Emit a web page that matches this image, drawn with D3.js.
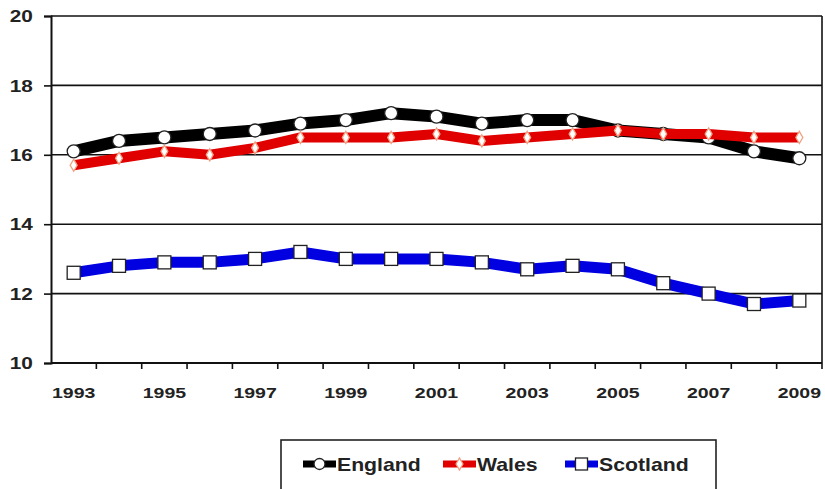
<!DOCTYPE html>
<html>
<head>
<meta charset="utf-8">
<script src="https://cdn.jsdelivr.net/npm/d3@7"></script>
<style>
  html, body { margin: 0; padding: 0; background: #fff; }
  svg text { font-family: "Liberation Sans", Arial, sans-serif; font-weight: bold; fill: #222; }
</style>
</head>
<body>
<div id="chart"></div>
<script>
const years = d3.range(1993, 2010);
const yearLabels = [1993, 1995, 1997, 1999, 2001, 2003, 2005, 2007, 2009];
const yTicks = [10, 12, 14, 16, 18, 20];

const england = [16.1, 16.4, 16.5, 16.6, 16.7, 16.9, 17.0, 17.2, 17.1, 16.9, 17.0, 17.0, 16.7, 16.6, 16.5, 16.1, 15.9];
const wales = [15.7, 15.9, 16.1, 16.0, 16.2, 16.5, 16.5, 16.5, 16.6, 16.4, 16.5, 16.6, 16.7, 16.6, 16.6, 16.5, 16.5];
const scotland = [12.6, 12.8, 12.9, 12.9, 13.0, 13.2, 13.0, 13.0, 13.0, 12.9, 12.7, 12.8, 12.7, 12.3, 12.0, 11.7, 11.8];

const seriesNames = ['England', 'Wales', 'Scotland'];

const width = 825, height = 489;
const plot = { left: 51, right: 822, top: 16, bottom: 363 };

const svg = d3.select('#chart')
  .append('svg')
  .attr('width', width)
  .attr('height', height);

const x = d3.scaleBand()
  .domain(years)
  .range([plot.left, plot.right])
  .padding(0);

const y = d3.scaleLinear()
  .domain([10, 20])
  .range([plot.bottom, plot.top]);

const cx = (d) => x(d) + x.bandwidth() / 2;

// gridlines
svg.append('g')
  .selectAll('line')
  .data(yTicks.filter((t) => t > 10))
  .enter()
  .append('line')
  .attr('x1', plot.left)
  .attr('x2', plot.right)
  .attr('y1', (d) => y(d))
  .attr('y2', (d) => y(d))
  .attr('stroke', '#111')
  .attr('stroke-width', 1.6);

// right border
svg.append('line')
  .attr('x1', plot.right).attr('x2', plot.right)
  .attr('y1', plot.top).attr('y2', plot.bottom)
  .attr('stroke', '#111')
  .attr('stroke-width', 1.6);

// y axis
const yAxis = svg.append('g')
  .attr('transform', `translate(${plot.left},0)`)
  .call(d3.axisLeft(y).tickValues(yTicks).tickSize(7).tickFormat(d3.format('d')));
yAxis.select('.domain').attr('stroke', '#111').attr('stroke-width', 2);
yAxis.selectAll('.tick line').attr('stroke', '#111').attr('stroke-width', 1.6);
yAxis.selectAll('.tick text')
  .attr('x', -14)
  .attr('dy', '0.36em')
  .attr('transform', 'scale(1.3,1)')
  .style('font-size', '16px');

// x axis: labels centred in categories, ticks at category boundaries
const xAxis = svg.append('g')
  .attr('transform', `translate(0,${plot.bottom})`)
  .call(d3.axisBottom(x).tickValues(yearLabels).tickSize(0).tickPadding(24));
xAxis.select('.domain').remove();
xAxis.selectAll('.tick text')
  .attr('transform', 'scale(1.3,1)')
  .style('font-size', '15px');

svg.append('line')
  .attr('x1', plot.left).attr('x2', plot.right)
  .attr('y1', plot.bottom).attr('y2', plot.bottom)
  .attr('stroke', '#111')
  .attr('stroke-width', 2);

svg.append('g')
  .selectAll('line')
  .data(years.slice(1).concat([null]))
  .enter()
  .append('line')
  .attr('x1', (d) => (d === null ? plot.right : x(d)))
  .attr('x2', (d) => (d === null ? plot.right : x(d)))
  .attr('y1', plot.bottom)
  .attr('y2', plot.bottom + 6)
  .attr('stroke', '#111')
  .attr('stroke-width', 1.6);

const line = d3.line()
  .x((d, i) => cx(years[i]))
  .y((d) => y(d));

// England
svg.append('path')
  .datum(england)
  .attr('d', line)
  .attr('fill', 'none')
  .attr('stroke', '#000')
  .attr('stroke-width', 12)
  .attr('stroke-linejoin', 'round');
svg.append('g')
  .selectAll('circle')
  .data(england)
  .enter()
  .append('circle')
  .attr('cx', (d, i) => cx(years[i]))
  .attr('cy', (d) => y(d))
  .attr('r', 6.5)
  .attr('fill', '#fff')
  .attr('stroke', '#222')
  .attr('stroke-width', 1.3);

// Wales
svg.append('path')
  .datum(wales)
  .attr('d', line)
  .attr('fill', 'none')
  .attr('stroke', '#e00000')
  .attr('stroke-width', 10)
  .attr('stroke-linejoin', 'round');
svg.append('g')
  .selectAll('path')
  .data(wales)
  .enter()
  .append('path')
  .attr('d', d3.symbol(d3.symbolDiamond, 42))
  .attr('transform', (d, i) => `translate(${cx(years[i])},${y(d)})`)
  .attr('fill', '#fff')
  .attr('stroke', '#f0a080')
  .attr('stroke-width', 1.3);

// Scotland
svg.append('path')
  .datum(scotland)
  .attr('d', line)
  .attr('fill', 'none')
  .attr('stroke', '#0000e0')
  .attr('stroke-width', 11)
  .attr('stroke-linejoin', 'round');
svg.append('g')
  .selectAll('rect')
  .data(scotland)
  .enter()
  .append('rect')
  .attr('x', (d, i) => cx(years[i]) - 6.5)
  .attr('y', (d) => y(d) - 6.5)
  .attr('width', 13)
  .attr('height', 13)
  .attr('fill', '#fff')
  .attr('stroke', '#222')
  .attr('stroke-width', 1.3);

// legend
const legend = svg.append('g');
legend.append('rect')
  .attr('x', 281)
  .attr('y', 440)
  .attr('width', 435)
  .attr('height', 60)
  .attr('fill', '#fff')
  .attr('stroke', '#222')
  .attr('stroke-width', 1.6);

const legendItems = [
  { name: seriesNames[0], color: '#000', x0: 303, w: 33 },
  { name: seriesNames[1], color: '#e00000', x0: 443, w: 33 },
  { name: seriesNames[2], color: '#0000e0', x0: 565, w: 33 }
];
const ly = 464;
legendItems.forEach((item, k) => {
  legend.append('line')
    .attr('x1', item.x0).attr('x2', item.x0 + item.w)
    .attr('y1', ly).attr('y2', ly)
    .attr('stroke', item.color)
    .attr('stroke-width', 7);
  const mx = item.x0 + item.w / 2;
  if (k === 0) {
    legend.append('circle').attr('cx', mx).attr('cy', ly).attr('r', 5.5)
      .attr('fill', '#fff').attr('stroke', '#222').attr('stroke-width', 1.3);
  } else if (k === 1) {
    legend.append('path').attr('d', d3.symbol(d3.symbolDiamond, 42))
      .attr('transform', `translate(${mx},${ly})`)
      .attr('fill', '#fff').attr('stroke', '#f0a080').attr('stroke-width', 1.3);
  } else {
    legend.append('rect').attr('x', mx - 6).attr('y', ly - 6).attr('width', 12).attr('height', 12)
      .attr('fill', '#fff').attr('stroke', '#222').attr('stroke-width', 1.3);
  }
  legend.append('text')
    .attr('transform', `translate(${item.x0 + item.w + 1},${ly + 7}) scale(1.18,1)`)
    .style('font-size', '18px')
    .text(item.name);
});
</script>
</body>
</html>
